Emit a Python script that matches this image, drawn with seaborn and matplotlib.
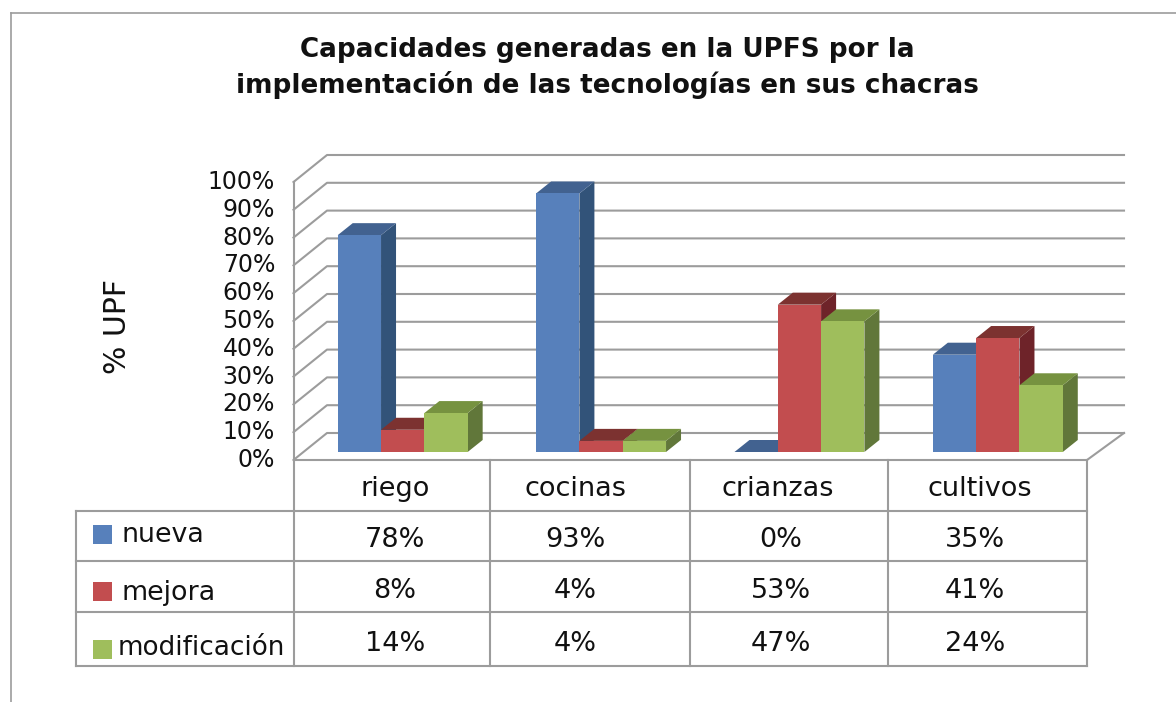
import matplotlib
matplotlib.use("Agg")
import matplotlib.pyplot as plt
import pandas as pd
import seaborn as sns
from matplotlib.patches import Polygon, Rectangle
from matplotlib.transforms import Affine2D, ScaledTranslation

categories = ["riego", "cocinas", "crianzas", "cultivos"]
series_names = ["nueva", "mejora", "modificación"]
nueva = [78, 93, 0, 35]
mejora = [8, 4, 53, 41]
modificacion = [14, 4, 47, 24]
y_ticks = [0, 10, 20, 30, 40, 50, 60, 70, 80, 90, 100]
title = "Capacidades generadas en la UPFS por la\nimplementación de las tecnologías en sus chacras"
y_label = "% UPF"

front = {"nueva": "#5780BB", "mejora": "#C24D4F", "modificación": "#9FBE5C"}
side = {"nueva": "#325379", "mejora": "#6E2329", "modificación": "#61773A"}
top = {"nueva": "#426290", "mejora": "#7C3230", "modificación": "#769240"}
LINE = "#9C9C9C"
FONT = "DejaVu Sans"
TXT = "#111111"

W, H = 1176, 702
sns.set_theme(style="white")
plt.rcParams["font.family"] = [FONT]
fig = plt.figure(figsize=(W / 100, H / 100), dpi=100, facecolor="white")
# plane of the front of the bars
ax = fig.add_axes([303.5 / W, 1 - 452 / H, 793.5 / W, 278 / H], facecolor="none")

rows = [(c, s, v) for s, vals in zip(series_names, [nueva, mejora, modificacion])
        for c, v in zip(categories, vals)]
df = pd.DataFrame(rows, columns=["categoria", "serie", "valor"])
sns.barplot(data=df, x="categoria", y="valor", hue="serie", order=categories,
            hue_order=series_names, palette=front, width=0.655, gap=0,
            linewidth=0, saturation=1, legend=False, ax=ax)
ax.set_xlim(-0.5, 3.5)
ax.set_ylim(0, 100)
ax.set_xlabel("")
ax.set_ylabel("")
for s in ax.spines.values():
    s.set_visible(False)
ax.grid(False)

T = Affine2D().scale(1, -1).translate(0, H)  # pixel coordinates of the picture


def to_px(x, y):
    dx, dy = ax.transData.transform((x, y))
    return dx, H - dy


def hline(xs, ys, z=1, lw=1.5):
    ax.plot(xs, ys, color=LINE, lw=lw, transform=T, clip_on=False, zorder=z,
            solid_capstyle="projecting", scalex=False, scaley=False)


# walls and gridlines
for v in y_ticks:
    yb = to_px(0, v)[1]
    hline([293.5, 327, 1124], [yb + 8, yb - 19, yb - 19])
hline([293.5, 293.5], [to_px(0, 100)[1] + 8, 666])
hline([1087, 1124], [460, 433])

# depth faces of the bars, drawn left to right
DX, DY = 15, -12
n_cat = len(categories)
items = []
for i, p in enumerate(ax.patches):
    name = series_names[i // n_cat]
    items.append((p.get_x(), p, name))
items.sort(key=lambda t: t[0])
for k, (_, p, name) in enumerate(items):
    x0, yb = to_px(p.get_x(), 0)
    x1, yt = to_px(p.get_x() + p.get_width(), p.get_height())
    z = 3 + 2 * k
    p.set_zorder(z + 1)
    p.set_clip_on(False)
    ax.add_artist(Polygon([(x1, yb), (x1 + DX, yb + DY), (x1 + DX, yt + DY), (x1, yt)],
                          closed=True, fc=side[name], ec="none", transform=T,
                          clip_on=False, zorder=z))
    ax.add_artist(Polygon([(x0, yt), (x1, yt), (x1 + DX, yt + DY), (x0 + DX, yt + DY)],
                          closed=True, fc=top[name], ec="none", transform=T,
                          clip_on=False, zorder=z))

# value axis labels
ax.set_xticks(range(n_cat))
ax.set_xticklabels([])
ax.set_yticks(y_ticks)
ax.set_yticklabels([f"{v}%" for v in y_ticks], fontsize=17, color=TXT, fontfamily=FONT)
ax.tick_params(axis="y", length=0, pad=20.5)
ax.tick_params(axis="x", length=0)
shift = ScaledTranslation(0, -5.5 / 100, fig.dpi_scale_trans)
for lab in ax.get_yticklabels():
    lab.set_transform(lab.get_transform() + shift)


def text(x, y, s, **kw):
    kw.setdefault("fontsize", 19.5)
    kw.setdefault("color", TXT)
    kw.setdefault("ha", "center")
    kw.setdefault("va", "center")
    ax.text(x, y, s, transform=T, clip_on=False, zorder=100, **kw)


# title and axis label
line1, line2 = title.split("\n")
text(607, 50, line1, fontsize=18.9, fontweight="bold")
text(607, 85, line2, fontsize=18.9, fontweight="bold")
text(118, 327, y_label, rotation=90, fontsize=21.5)

# outer frame
hline([11, 1176], [13, 13], lw=1.2)
hline([11, 11], [13, 702], lw=1.2)

# data table
for y, x0 in [(460, 293.5), (511, 76), (561, 76), (612, 76), (666, 76)]:
    hline([x0, 1087], [y, y])
hline([76, 76], [511, 666])
for x in [490, 690, 888, 1087]:
    hline([x, x], [460, 666])

cat_x = [395, 575, 778, 980]
val_x = [395, 575, 781, 975]
row_y = [540, 591, 644]
swatch_y = [525, 582, 640]
label_pos = [(121, 535), (122, 593), (118, 648)]
for c, x in zip(categories, cat_x):
    text(x, 489, c)
for name, vals, ry, sy, (lx, ly) in zip(series_names, [nueva, mejora, modificacion],
                                        row_y, swatch_y, label_pos):
    for v, x in zip(vals, val_x):
        text(x, ry, f"{v}%", fontsize=19.5)
    ax.add_artist(Rectangle((93, sy), 19, 19, fc=front[name], ec="none",
                            transform=T, clip_on=False, zorder=100))
    text(lx, ly, name, ha="left", fontsize=18.9 if name == "modificación" else 19.4)

fig.savefig("out.png", dpi=100)
